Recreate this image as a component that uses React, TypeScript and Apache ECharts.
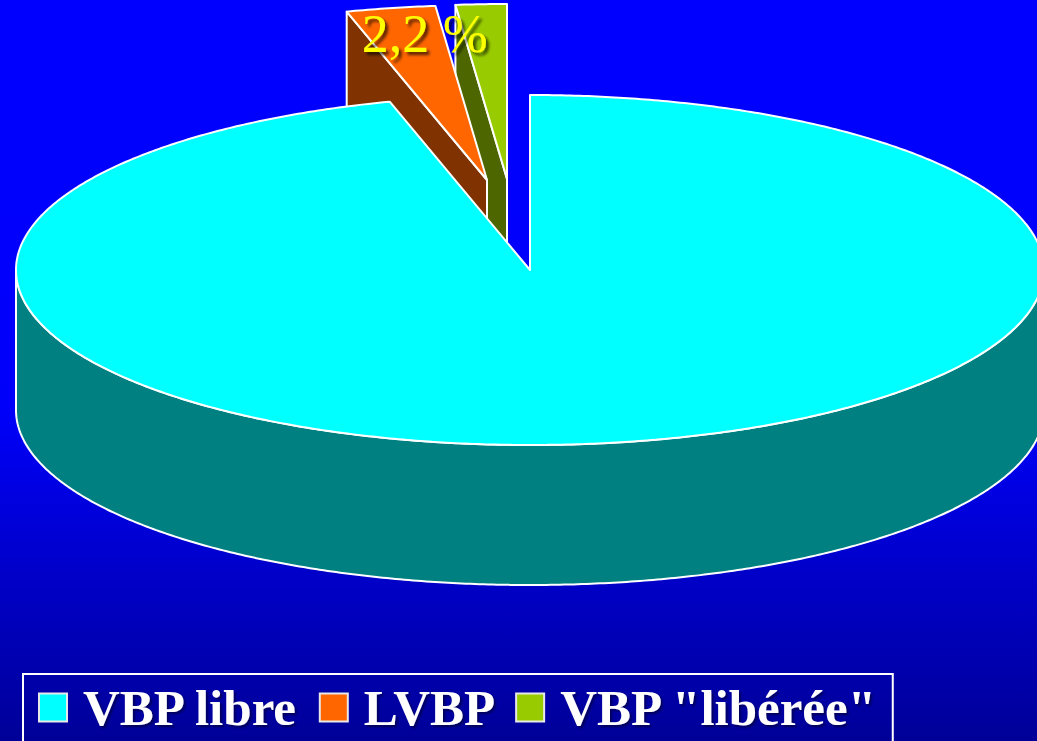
import React, { useEffect, useRef } from "react";
import * as echarts from "echarts";

// ---- data ----
const categories = ["VBP libre", "LVBP", 'VBP "libérée"'];
const values = [95.6, 2.8, 1.6];
const valueLabels = ["", "2,2 %", ""];

// ---- style ----
const topColors = ["#00FFFF", "#FF6600", "#99CC00"];
const sideColors = ["#008080", "#803300", "#4D6600"];
const explodeOffsets = [
  [0, 0],
  [-43, -90],
  [-23, -91],
];
const zOrder = [4, 3, 2];
const CX = 530;
const CY = 270;
const RX = 514;
const RY = 175;
const DEPTH = 140;
const FONT = "'Liberation Serif', 'Times New Roman', serif";

const total = values.reduce((a, b) => a + b, 0);
const cumulative = values.map((_, i) => values.slice(0, i).reduce((a, b) => a + b, 0));

function makeRenderItem(idx: number) {
  return (params: any, api: any) => {
    const val = api.value(0);
    const before = api.value(1);
    const s = 90 - (before / total) * 360;
    const e = s - (val / total) * 360;
    const [ox, oy] = explodeOffsets[idx];
    const cx = CX + ox;
    const cy = CY + oy;
    const rad = (a: number) => (a * Math.PI) / 180;
    const pt = (a: number, dy = 0) => [cx + RX * Math.cos(rad(a)), cy - RY * Math.sin(rad(a)) + dy];
    const stroke = { stroke: "#ffffff", lineWidth: 2, lineJoin: "round" };
    const children: any[] = [];

    // outer curved side (front half only)
    const step = 0.5;
    let seg: number[] = [];
    const segments: number[][] = [];
    for (let a = e; a <= s + 1e-9; a += step) {
      const aa = Math.min(a, s);
      if (Math.sin(rad(aa)) <= 1e-9) seg.push(aa);
      else if (seg.length) {
        segments.push(seg);
        seg = [];
      }
    }
    if (seg.length) segments.push(seg);
    segments.forEach((sg) => {
      if (sg.length < 2) return;
      const top = sg.map((a) => pt(a));
      const bot = sg.slice().reverse().map((a) => pt(a, DEPTH));
      children.push({
        type: "polygon",
        shape: { points: top.concat(bot) },
        style: { fill: sideColors[idx], ...stroke },
      });
    });

    // radial faces
    const face = (a: number) => {
      const r = pt(a);
      return {
        type: "polygon",
        shape: { points: [[cx, cy], r, [r[0], r[1] + DEPTH], [cx, cy + DEPTH]] },
        style: { fill: sideColors[idx], ...stroke },
      };
    };
    if (Math.sin(rad(s + 90)) < -1e-6) children.push(face(s));
    if (Math.sin(rad(e - 90)) < -1e-6) children.push(face(e));

    // top surface
    const arc: number[][] = [];
    const n = Math.max(2, Math.ceil((s - e) / 0.5));
    for (let k = 0; k <= n; k++) arc.push(pt(s - ((s - e) * k) / n));
    children.push({
      type: "polygon",
      shape: { points: [[cx, cy]].concat(arc) },
      style: { fill: topColors[idx], ...stroke },
    });

    if (valueLabels[idx]) {
      const mid = pt((s + e) / 2);
      children.push({
        type: "text",
        x: mid[0] + 34,
        y: mid[1] + 26,
        style: {
          text: valueLabels[idx],
          fill: "#FFFF00",
          font: `normal 54px ${FONT}`,
          align: "center",
          verticalAlign: "middle",
          textShadowColor: "rgba(0,0,0,0.65)",
          textShadowBlur: 3,
          textShadowOffsetX: 3,
          textShadowOffsetY: 3,
        },
      });
    }
    return { type: "group", children };
  };
}

export default function App() {
  const ref = useRef<HTMLDivElement>(null);
  useEffect(() => {
    if (!ref.current) return;
    const chart = echarts.init(ref.current, null, { renderer: "svg" });
    chart.setOption({
      animation: false,
      backgroundColor: {
        type: "linear",
        x: 0,
        y: 0,
        x2: 0,
        y2: 1,
        colorStops: [
          { offset: 0, color: "#0000FF" },
          { offset: 0.55, color: "#0000FA" },
          { offset: 1, color: "#000098" },
        ],
      },
      legend: {
        data: categories,
        left: 23,
        top: 674,
        orient: "horizontal",
        icon: "rect",
        itemWidth: 28,
        itemHeight: 28,
        itemGap: 20,
        padding: [8, 14, 20, 15],
        borderColor: "#ffffff",
        borderWidth: 2,
        itemStyle: { borderColor: "#e8e8e8", borderWidth: 2 },
        textStyle: {
          color: "#ffffff",
          fontFamily: FONT,
          fontWeight: "bold",
          fontSize: 51,
          padding: [0, 0, 0, 11],
          textShadowColor: "rgba(0,0,0,0.45)",
          textShadowBlur: 2,
          textShadowOffsetX: 2,
          textShadowOffsetY: 2,
        },
      },
      series: categories.map((name, i) => ({
        type: "custom",
        name,
        coordinateSystem: "none",
        z: zOrder[i],
        itemStyle: { color: topColors[i] },
        data: [[values[i], cumulative[i]]],
        renderItem: makeRenderItem(i),
      })),
    });
    return () => chart.dispose();
  }, []);
  return (
    <div
      ref={ref}
      style={{ position: "fixed", left: 0, top: 0, width: 1037, height: 741 }}
    />
  );
}
